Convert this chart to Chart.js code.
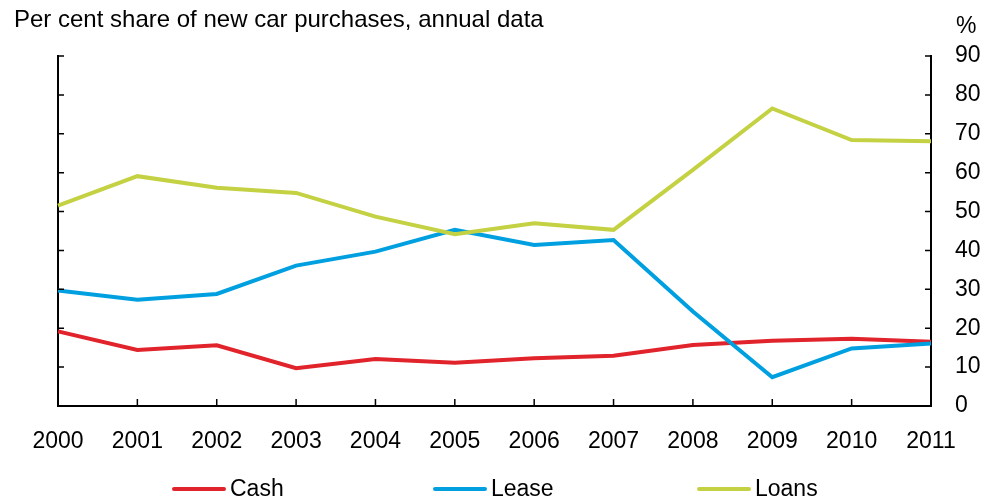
<!DOCTYPE html>
<html>
<head>
<meta charset="utf-8">
<script src="https://cdn.jsdelivr.net/npm/chart.js@4/dist/chart.umd.min.js"></script>
<style>
  body { margin: 0; background: #fff; }
  #wrap { position: relative; width: 1001px; height: 500px; font-family: "Liberation Sans", Arial, sans-serif; color: #000; }
  #grafikon { position: absolute; left: 0; top: 0; }
  .tekst { position: absolute; font-size: 23px; line-height: 1; white-space: nowrap; }
  .stavka { position: absolute; top: 476px; height: 25px; display: flex; align-items: center; font-size: 23px; }
  .stavka i { display: inline-block; width: 54px; height: 4px; margin-right: 4px; border-radius: 2px; }
</style>
</head>
<body>
<div id="wrap">
  <canvas id="grafikon" width="1001" height="500"></canvas>
  <div class="tekst" style="left:14px; top:7px; font-size:24px;">Per cent share of new car purchases, annual data</div>
  <div class="tekst" style="left:956px; top:14px;">%</div>
  <div id="legenda"></div>
</div>
<script>
var godine = ["2000", "2001", "2002", "2003", "2004", "2005", "2006", "2007", "2008", "2009", "2010", "2011"];
var gotovina = [19.2, 14.4, 15.6, 9.7, 12.1, 11.1, 12.3, 12.9, 15.7, 16.8, 17.3, 16.5];
var lizing = [29.7, 27.3, 28.8, 36.1, 39.7, 45.3, 41.4, 42.7, 24.3, 7.4, 14.8, 16.1];
var krediti = [51.5, 59.1, 56.1, 54.8, 48.7, 44.2, 47.0, 45.3, 60.7, 76.5, 68.4, 68.1];
var yTicks = [0, 10, 20, 30, 40, 50, 60, 70, 80, 90];

var nazivi = ["Cash", "Lease", "Loans"];
var boje = ["#e1232b", "#00a0e0", "#c3d142"];
var legendaX = [172, 433, 697];

var font = { family: "'Liberation Sans', Arial, sans-serif", size: 23 };

// kratke crtice prema unutra na sve tri ose
var unutrasnjeCrtice = {
    id: 'unutrasnjeCrtice',
    afterDraw: function (chart) {
        var ctx = chart.ctx;
        var a = chart.chartArea;
        var x = chart.scales.x;
        var y = chart.scales.y;
        ctx.save();
        ctx.strokeStyle = '#000';
        ctx.lineWidth = 1.5;
        ctx.beginPath();
        yTicks.forEach(function (v) {
            if (v === 0) return;
            var py = y.getPixelForValue(v);
            ctx.moveTo(a.left, py);
            ctx.lineTo(a.left + 6, py);
            ctx.moveTo(a.right - 6, py);
            ctx.lineTo(a.right, py);
        });
        godine.forEach(function (g, i) {
            var px = x.getPixelForValue(i);
            ctx.moveTo(px, a.bottom);
            ctx.lineTo(px, a.bottom - 7);
        });
        ctx.stroke();
        ctx.restore();
    }
};

var ctx = document.getElementById("grafikon").getContext('2d');
var myLineChart = new Chart(ctx, {
    type: 'line',
    data: {
        labels: godine,
        datasets: [
            { label: nazivi[0], data: gotovina, borderColor: boje[0], order: 3 },
            { label: nazivi[1], data: lizing, borderColor: boje[1], order: 2 },
            { label: nazivi[2], data: krediti, borderColor: boje[2], order: 1 }
        ]
    },
    options: {
        responsive: false,
        animation: false,
        layout: { padding: { left: 58, top: 56, right: 0, bottom: 0 } },
        elements: {
            line: { borderWidth: 4, tension: 0, borderCapStyle: 'butt' },
            point: { radius: 0, hoverRadius: 0 }
        },
        plugins: {
            legend: { display: false },
            tooltip: { enabled: false },
            title: { display: false }
        },
        scales: {
            x: {
                offset: false,
                grid: { display: false, drawTicks: false },
                border: { display: true, color: '#000', width: 2 },
                ticks: { font: font, color: '#000', padding: 22, maxRotation: 0, autoSkip: false },
                afterFit: function (s) { s.height = 94; }
            },
            y: {
                position: 'right',
                min: 0,
                max: 90,
                grid: { display: false, drawTicks: false },
                border: { display: true, color: '#000', width: 2 },
                ticks: { stepSize: 10, font: font, color: '#000', padding: 24 },
                afterFit: function (s) { s.width = 70; }
            },
            yL: {
                position: 'left',
                min: 0,
                max: 90,
                grid: { display: false, drawTicks: false },
                border: { display: true, color: '#000', width: 2 },
                ticks: { display: false },
                afterFit: function (s) { s.width = 0; }
            }
        }
    },
    plugins: [unutrasnjeCrtice]
});

var legenda = document.getElementById("legenda");
nazivi.forEach(function (n, i) {
    var d = document.createElement("div");
    d.className = "stavka";
    d.style.left = legendaX[i] + "px";
    d.innerHTML = '<i style="background:' + boje[i] + '"></i><span>' + n + '</span>';
    legenda.appendChild(d);
});
</script>
</body>
</html>
